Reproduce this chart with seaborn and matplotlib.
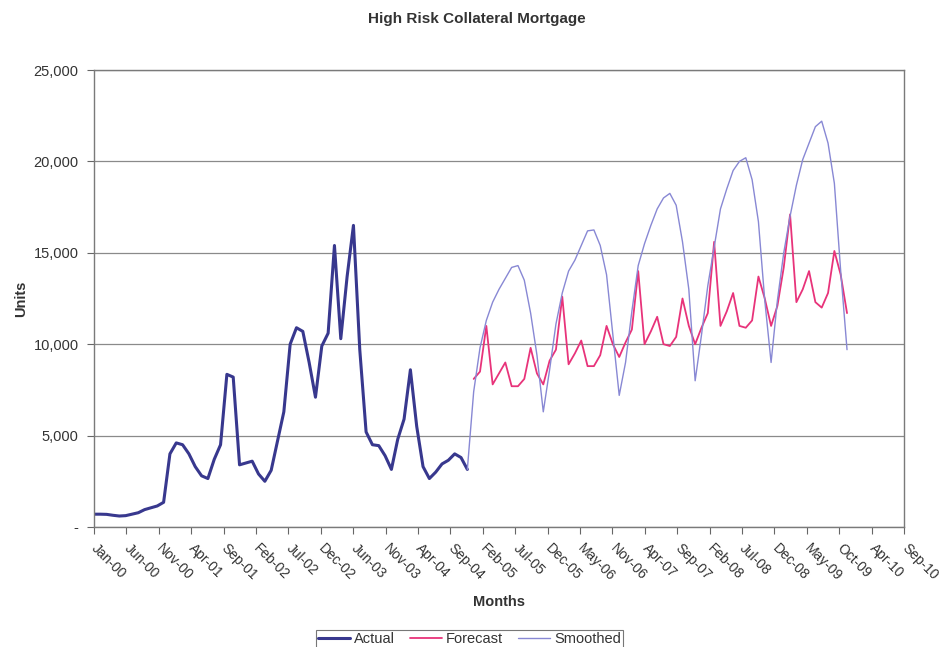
import numpy as np
import pandas as pd
import seaborn as sns
import matplotlib
matplotlib.use("Agg")
import matplotlib.pyplot as plt
from matplotlib.ticker import FuncFormatter

## data ##
# monthly units, Jan-00 .. Dec-04
actual = [700, 700, 690, 640, 600, 620, 700, 780, 950, 1050, 1150, 1350,
          4000, 4600, 4500, 4000, 3300, 2800, 2650, 3700, 4500, 8350, 8200, 3400,
          3500, 3600, 2900, 2500, 3100, 4700, 6300, 10000, 10900, 10700, 9000, 7100,
          9900, 10600, 15400, 10300, 13700, 16500, 9700, 5200, 4500, 4450, 3900, 3150,
          4800, 5900, 8600, 5500, 3300, 2650, 3000, 3450, 3650, 4000, 3800, 3150]

# Jan-05 .. Dec-09
forecast = [8100, 8500, 11000, 7800, 8400, 9000, 7700, 7700, 8100, 9800, 8400, 7800,
            9100, 9700, 12600, 8900, 9500, 10200, 8800, 8800, 9400, 11000, 10000, 9300,
            10100, 10800, 14000, 10000, 10700, 11500, 10000, 9900, 10400, 12500, 11000, 10000,
            10900, 11700, 15600, 11000, 11800, 12800, 11000, 10900, 11300, 13700, 12500, 11000,
            12100, 14200, 17100, 12300, 13000, 14000, 12300, 12000, 12800, 15100, 13800, 11700]

# Dec-04 .. Dec-09
smoothed = [3150,
            7400, 9800, 11300, 12300, 13000, 13600, 14200, 14300, 13500, 11700, 9400, 6300,
            8600, 11100, 12800, 14000, 14600, 15400, 16200, 16250, 15400, 13800, 10500, 7200,
            9000, 11800, 14300, 15500, 16500, 17400, 18000, 18250, 17600, 15600, 13000, 8000,
            10500, 13200, 15300, 17400, 18500, 19500, 20000, 20200, 19000, 16700, 12400, 9000,
            12400, 15000, 17000, 18700, 20100, 21000, 21900, 22200, 21000, 18800, 14000, 9700]

tick_labels = ["Jan-00", "Jun-00", "Nov-00", "Apr-01", "Sep-01", "Feb-02", "Jul-02",
               "Dec-02", "Jun-03", "Nov-03", "Apr-04", "Sep-04", "Feb-05", "Jul-05",
               "Dec-05", "May-06", "Nov-06", "Apr-07", "Sep-07", "Feb-08", "Jul-08",
               "Dec-08", "May-09", "Oct-09", "Apr-10", "Sep-10"]

# month index from Jan-00
df = pd.concat([
    pd.DataFrame({"month": np.arange(0, 60), "units": actual, "series": "Actual"}),
    pd.DataFrame({"month": np.arange(60, 120), "units": forecast, "series": "Forecast"}),
    pd.DataFrame({"month": np.arange(59, 120), "units": smoothed, "series": "Smoothed"}),
])

sns.set_style("white")
plt.rcParams["font.family"] = ["Liberation Sans", "DejaVu Sans"]

fig = plt.figure(figsize=(9.39, 6.47), dpi=100)
ax = fig.add_axes([0.1001, 0.1855, 0.8626, 0.7063])

palette = {"Actual": "#38388e", "Forecast": "#e8337a", "Smoothed": "#8888d4"}
widths = {"Actual": 2.2, "Forecast": 1.3, "Smoothed": 1.0}
for name in ["Actual", "Forecast", "Smoothed"]:
    sns.lineplot(data=df[df.series == name], x="month", y="units",
                 color=palette[name], linewidth=widths[name], label=name,
                 ax=ax, legend=False)

ax.set_xlim(0, 128)
ax.set_ylim(0, 25000)
ax.set_yticks(np.arange(0, 25001, 5000))
ax.yaxis.set_major_formatter(FuncFormatter(lambda v, p: "-" if v == 0 else f"{int(v):,}"))
ax.set_xticks(np.linspace(0, 128, len(tick_labels)))
ax.set_xticklabels(tick_labels, rotation=-45, ha="left", va="center",
                   rotation_mode="anchor", fontsize=10, color="#333333")
ax.tick_params(axis="y", labelsize=10.5, labelcolor="#333333", length=5,
               direction="out", left=True, color="#666666", pad=6)
ax.tick_params(axis="x", length=5, direction="out", bottom=True,
               color="#666666", pad=9)

ax.grid(axis="y", color="#8a8a8a", linewidth=0.9)
ax.grid(axis="x", visible=False)
for side in ["left", "bottom", "right", "top"]:
    ax.spines[side].set_visible(True)
    ax.spines[side].set_color("#7a7a7a")
    ax.spines[side].set_linewidth(1.0)
    ax.spines[side].set_linestyle((0, (2, 1)))

ax.set_xlabel("Months", fontsize=10.5, fontweight="bold", color="#333333", labelpad=8)
ax.set_ylabel("Units", fontsize=10.5, fontweight="bold", color="#333333", labelpad=4)
fig.text(0.508, 0.971, "High Risk Collateral Mortgage", ha="center", va="center",
         fontsize=11, fontweight="bold", color="#333333")

handles, labels = ax.get_legend_handles_labels()
leg = fig.legend(handles, labels, loc="upper center", bbox_to_anchor=(0.5, 0.038),
                 ncol=3, frameon=True, fancybox=False, fontsize=10.5,
                 handlelength=2.2, handletextpad=0.3, columnspacing=1.0,
                 borderpad=0.15, edgecolor="#555555")
leg.get_frame().set_linewidth(0.8)
for t in leg.get_texts():
    t.set_color("#333333")

fig.savefig("out.png", dpi=100, facecolor="white")
